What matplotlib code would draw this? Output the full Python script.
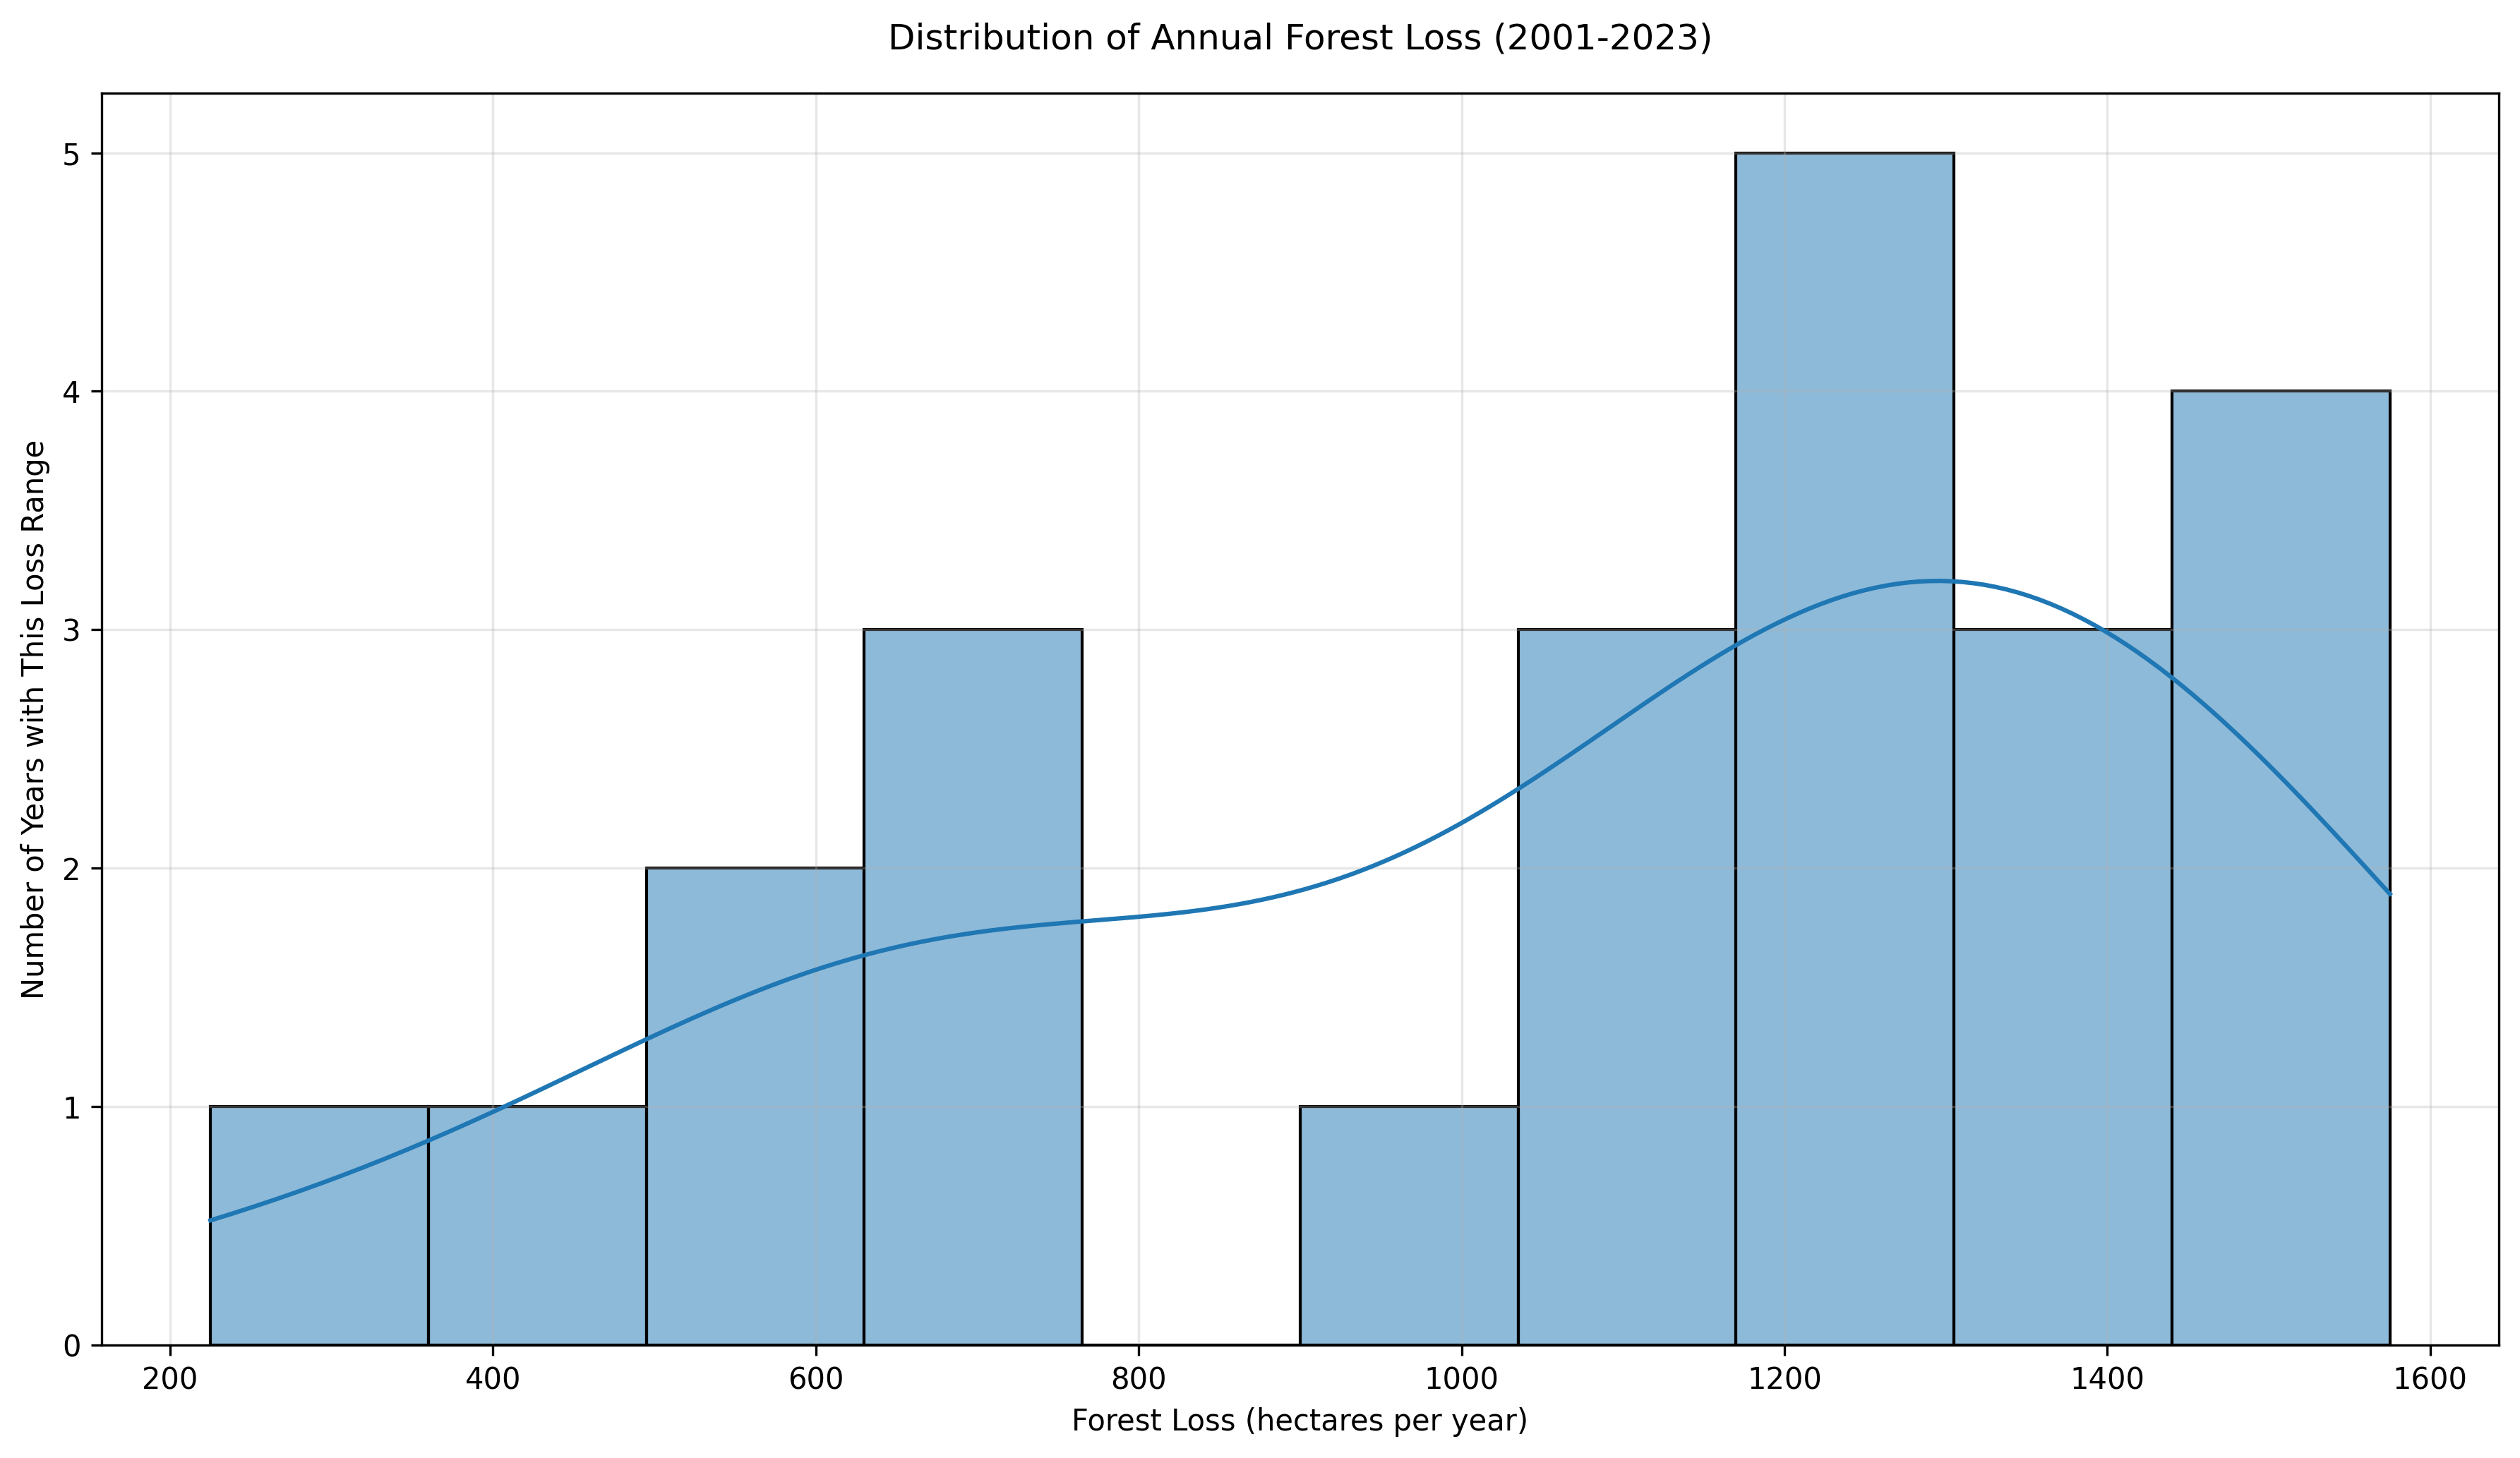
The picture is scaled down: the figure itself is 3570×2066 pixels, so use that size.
import numpy as np
import pandas as pd
import matplotlib
matplotlib.use("Agg")
import matplotlib.pyplot as plt
import seaborn as sns

# annual forest loss, hectares per year, 2001-2023 (estimated from the histogram)
years = list(range(2001, 2024))
forest_loss = [
    225, 470, 585, 625, 690, 740, 764, 910, 1050, 1100, 1165, 1175,
    1220, 1260, 1290, 1304, 1310, 1360, 1435, 1445, 1470, 1530, 1575,
]

df = pd.DataFrame({"year": years, "loss": forest_loss})

fig, ax = plt.subplots(figsize=(11.9, 6.887), dpi=300)
sns.histplot(data=df, x="loss", bins=10, kde=True, color="#1f77b4",
             edgecolor="black", linewidth=1, ax=ax)

ax.set_title("Distribution of Annual Forest Loss (2001-2023)", fontsize=12, pad=15)
ax.set_xlabel("Forest Loss (hectares per year)")
ax.set_ylabel("Number of Years with This Loss Range")
ax.grid(True, alpha=0.3)

fig.subplots_adjust(left=0.0403, right=0.9916, top=0.936, bottom=0.0775)
fig.savefig("out.png", dpi=300)
